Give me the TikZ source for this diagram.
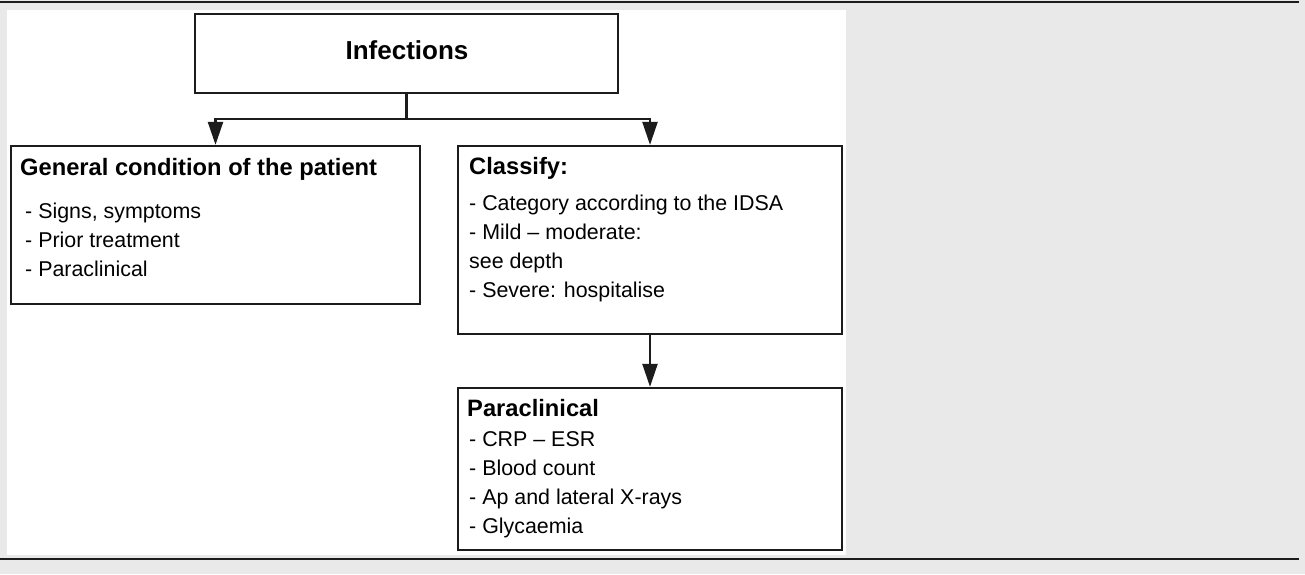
\documentclass[tikz,border=0pt]{standalone}
\usepackage{fontspec}
\setmainfont{Liberation Sans}
\usetikzlibrary{arrows.meta}
\definecolor{pagegray}{RGB}{233,233,233}
\definecolor{inkline}{RGB}{28,28,28}
\begin{document}
\begin{tikzpicture}[x=1pt,y=-1pt,
  box/.style={draw=inkline, line width=2.3pt, fill=white, inner sep=0pt},
  head/.style={font=\fontsize{23.7}{28}\selectfont\bfseries, anchor=base west, inner sep=0pt},
  entry/.style={font=\fontsize{21.4}{26}\selectfont, anchor=base west, inner sep=0pt},
  link/.style={draw=inkline, line width=2.3pt},
  tip/.style={-{Triangle[width=15pt,length=23pt]}}
]
\useasboundingbox (0,0) rectangle (1305,574);
% page background, white panel and the two rules
\fill[pagegray] (0,0) rectangle (1305,574);
\fill[white] (7,10) rectangle (846,555);
\draw[inkline, line width=2.3pt] (0,2) -- (1299,2);
\draw[inkline, line width=2.3pt] (0,558.7) -- (1299,558.7);

% boxes
\node[box, minimum width=423pt, minimum height=79pt] (inf) at (406.5,53.5) {};
\node[box, minimum width=409pt, minimum height=158pt] (gen) at (215.5,225) {};
\node[box, minimum width=384pt, minimum height=188pt] (cls) at (650,240) {};
\node[box, minimum width=384pt, minimum height=162pt] (par) at (650,469) {};

% connectors
\coordinate (split) at (406.5,119);
\draw[link] (inf.south) -- (split);
\draw[link, tip] (split) -| (gen.north);
\draw[link, tip] (split) -| (cls.north);
\draw[link, tip] (cls.south) -- (par.north);

% texts
\node[font=\fontsize{26}{30}\selectfont\bfseries, anchor=base, inner sep=0pt] (inftxt) at (407,59.3) {Infections};

\node[head] (genh) at (20,175) {General condition of the patient};
\node[entry] (gen1) at (25,218.3) {- Signs, symptoms};
\node[entry] (gen2) at (25,247.3) {- Prior treatment};
\node[entry] (gen3) at (25,276.5) {- Paraclinical};

\node[head] (clsh) at (469,174.5) {Classify:};
\node[entry] (cls1) at (469,210) {- Category according to the IDSA};
\node[entry] (cls2) at (469,239.3) {- Mild – moderate:};
\node[entry] (cls3) at (469,268.5) {see depth};
\node[entry] (cls4) at (469,297.7) {- Severe: hospitalise};

\node[head] (parh) at (467,416.7) {Paraclinical};
\node[entry] (par1) at (469,446) {- CRP – ESR};
\node[entry] (par2) at (469,475) {- Blood count};
\node[entry] (par3) at (469,504.3) {- Ap and lateral X-rays};
\node[entry] (par4) at (469,533.7) {- Glycaemia};
\end{tikzpicture}
\end{document}
